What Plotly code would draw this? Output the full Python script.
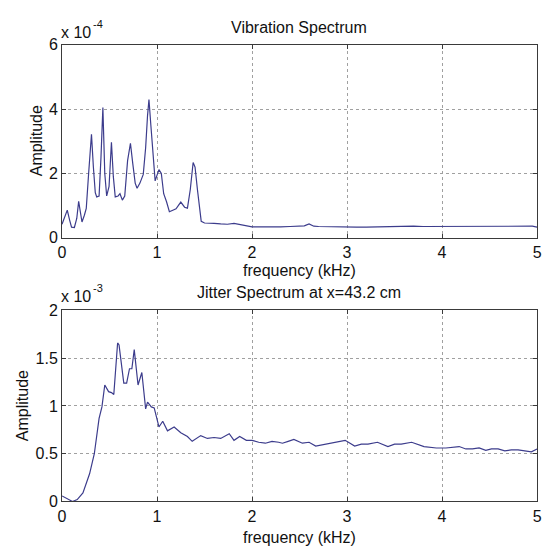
import plotly.graph_objects as go

# ---- Vibration spectrum (amplitude in units of 1e-4) ----
vib_freq = [0, 0.03, 0.055, 0.08, 0.1, 0.13, 0.155, 0.175, 0.19, 0.21, 0.235, 0.255, 0.28, 0.31,
            0.33, 0.35, 0.365, 0.39, 0.41, 0.43, 0.45, 0.47, 0.495, 0.52, 0.54, 0.56, 0.59, 0.61,
            0.635, 0.66, 0.69, 0.72, 0.745, 0.77, 0.79, 0.82, 0.855, 0.88, 0.9, 0.915, 0.935, 0.96,
            0.98, 1.0, 1.02, 1.045, 1.07, 1.10, 1.13, 1.16, 1.2, 1.25, 1.29, 1.32, 1.35, 1.38, 1.40,
            1.425, 1.45, 1.465, 1.5, 1.53, 1.6, 1.67, 1.74, 1.81, 1.87, 1.94, 2.0,
            2.1, 2.2, 2.3, 2.4, 2.5, 2.55, 2.6, 2.65, 2.7, 2.8, 2.9, 3.0, 3.1, 3.2, 3.3, 3.4, 3.5,
            3.6, 3.7, 3.8, 3.9, 4.0, 4.1, 4.2, 4.3, 4.4, 4.5, 4.6, 4.7, 4.8, 4.9, 4.95, 5.0]
vib_amp = [0.42, 0.7, 0.86, 0.55, 0.33, 0.32, 0.6, 1.13, 0.8, 0.49, 0.7, 0.91, 2.0, 3.22,
           2.2, 1.4, 1.27, 1.3, 2.5, 4.05, 2.0, 1.3, 1.6, 2.97, 1.9, 1.27, 1.3, 1.37,
           1.17, 1.3, 2.4, 2.94, 2.3, 1.7, 1.54, 1.7, 1.97, 2.8, 3.8, 4.30, 3.5, 2.4,
           1.77, 1.95, 2.12, 2.0, 1.37, 1.12, 0.81, 0.85, 0.9, 1.11, 0.95, 0.92, 1.5, 2.34, 2.2,
           1.5, 0.8, 0.51, 0.46, 0.45, 0.45, 0.43, 0.42, 0.45, 0.41, 0.37, 0.34,
           0.34, 0.33, 0.34, 0.35, 0.35, 0.37, 0.43, 0.36, 0.35, 0.34, 0.34, 0.34, 0.33, 0.33, 0.34, 0.35, 0.35,
           0.36, 0.36, 0.35, 0.35, 0.34, 0.34, 0.35, 0.34, 0.35, 0.34, 0.35, 0.34, 0.35, 0.34, 0.36, 0.33]

# ---- Jitter spectrum (amplitude in units of 1e-3) ----
jit_freq = [0, 0.04, 0.11, 0.16, 0.22, 0.29, 0.34, 0.39, 0.42, 0.45, 0.49, 0.52, 0.545, 0.585,
            0.60, 0.65, 0.68, 0.71, 0.735, 0.76, 0.80, 0.84, 0.88, 0.90, 0.94, 0.97, 1.02, 1.06,
            1.11, 1.18, 1.25, 1.32, 1.37, 1.46, 1.53, 1.60, 1.67, 1.76, 1.81, 1.87, 1.94, 2.0,
            2.07, 2.14, 2.21, 2.28, 2.32, 2.38, 2.44, 2.53, 2.6, 2.67, 2.77, 2.87, 2.98, 3.08,
            3.15, 3.22, 3.32, 3.43, 3.5, 3.57, 3.68, 3.81, 3.94, 4.04, 4.11, 4.18, 4.25, 4.32,
            4.39, 4.46, 4.52, 4.59, 4.66, 4.73, 4.8, 4.87, 4.94, 5.0]
jit_amp = [0.058, 0.04, 0.0, 0.02, 0.09, 0.29, 0.5, 0.87, 0.99, 1.22, 1.15, 1.14, 1.12, 1.66,
           1.64, 1.24, 1.24, 1.39, 1.39, 1.59, 1.22, 1.35, 0.97, 1.04, 0.99, 0.98, 0.78, 0.84,
           0.74, 0.78, 0.72, 0.68, 0.63, 0.69, 0.66, 0.67, 0.66, 0.71, 0.64, 0.68, 0.64, 0.64,
           0.62, 0.61, 0.63, 0.62, 0.61, 0.63, 0.65, 0.61, 0.62, 0.58, 0.60, 0.62, 0.64, 0.58,
           0.60, 0.60, 0.62, 0.575, 0.60, 0.60, 0.62, 0.575, 0.56, 0.56, 0.57, 0.575, 0.55, 0.55,
           0.56, 0.535, 0.55, 0.55, 0.53, 0.54, 0.54, 0.53, 0.52, 0.55]

x_ticks = [0, 1, 2, 3, 4, 5]
vib_yticks = [0, 2, 4, 6]
jit_yticks = [0, 0.5, 1, 1.5, 2]
jit_yticklabels = ["0", "0.5", "1", "1.5", "2"]

W, H = 547, 557
FONT = "Liberation Sans, Arial, sans-serif"
LINE = "#3c3c8c"
FRAME = "#3a3a3a"

def px(v):
    return v / W

def py(v):
    return 1 - v / H

fig = go.Figure()
fig.add_trace(go.Scatter(x=vib_freq, y=vib_amp, mode="lines",
                         line=dict(color=LINE, width=1.2), xaxis="x", yaxis="y", showlegend=False))
fig.add_trace(go.Scatter(x=jit_freq, y=jit_amp, mode="lines",
                         line=dict(color=LINE, width=1.2), xaxis="x2", yaxis="y2", showlegend=False))

axis_common = dict(showgrid=True, gridcolor="#a0a0a0", griddash="dot", gridwidth=1,
                   showline=True, linecolor=FRAME, linewidth=1, mirror="ticks",
                   ticks="inside", ticklen=4, tickcolor=FRAME, zeroline=False,
                   tickfont=dict(family=FONT, size=16, color="#111"))

fig.update_layout(
    width=W, height=H,
    margin=dict(l=0, r=0, t=0, b=0),
    paper_bgcolor="white", plot_bgcolor="white",
    xaxis=dict(domain=[px(59), px(542)], range=[0, 5], tickvals=x_ticks, anchor="y", **axis_common),
    yaxis=dict(domain=[py(237), py(38)], range=[0, 6], tickvals=vib_yticks, anchor="x", **axis_common),
    xaxis2=dict(domain=[px(59), px(542)], range=[0, 5], tickvals=x_ticks, anchor="y2", **axis_common),
    yaxis2=dict(domain=[py(509), py(312)], range=[0, 2], tickvals=jit_yticks,
                ticktext=jit_yticklabels, anchor="x2", **axis_common),
)

def ann(text, x, y, size=16, angle=0, xanchor="center"):
    fig.add_annotation(text=text, x=px(x), y=py(y), xref="paper", yref="paper",
                       showarrow=False, textangle=angle, xanchor=xanchor, yanchor="middle",
                       font=dict(family=FONT, size=size, color="#111"))

ann("Vibration Spectrum", 300, 20)
ann("frequency (kHz)", 300, 271)
ann("Amplitude", 33, 137, angle=-90)
ann("x 10", 56, 25, size=16, xanchor="left")
ann("-4", 88, 16, size=11, xanchor="left")

ann("Jitter Spectrum at x=43.2 cm", 300, 293)
ann("frequency (kHz)", 300, 546)
ann("Amplitude", 19, 410, angle=-90)
ann("x 10", 56, 298, size=16, xanchor="left")
ann("-3", 88, 289, size=11, xanchor="left")

fig.write_html("out.html")
